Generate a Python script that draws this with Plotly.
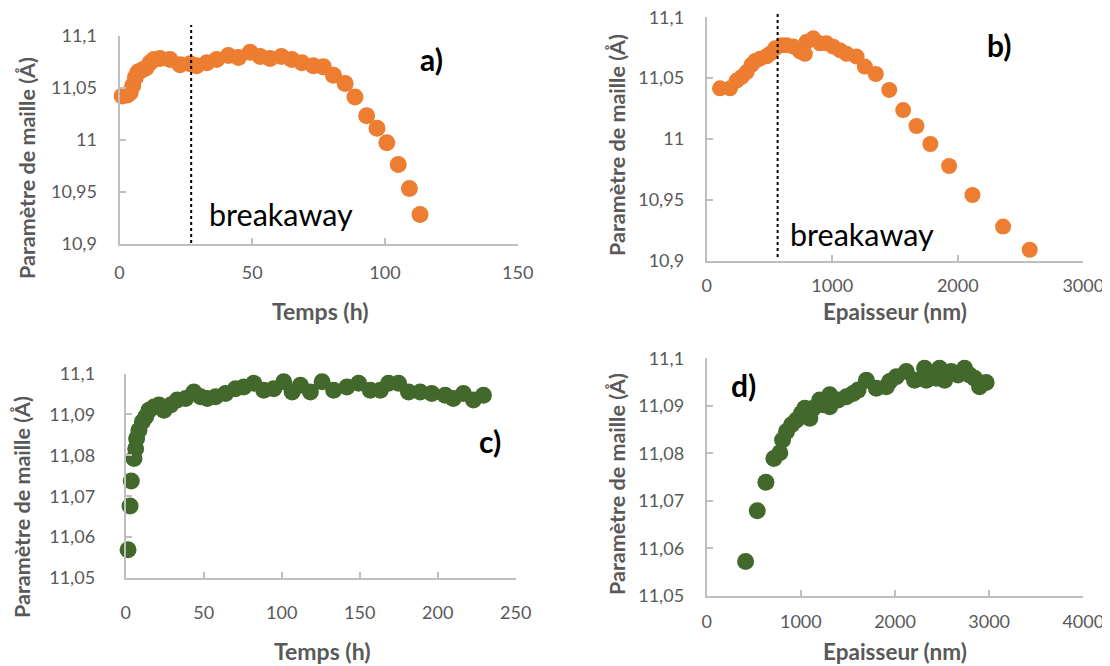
import plotly.graph_objects as go

# ---------------- data ----------------
a_time = [1.0, 2.0, 3.0, 4.0, 5.0, 6.0, 7.0, 8.5, 10.0, 11.5, 13.0, 15.3, 19.0, 22.8,
          26.6, 29.0, 32.9, 36.6, 41.0, 44.8, 49.2, 53.0, 56.7, 61.0, 64.9, 68.7,
          73.0, 76.8, 80.6, 85.0, 88.7, 93.1, 97.0, 100.7, 105.0, 109.2, 113.2]
a_param = [11.042, 11.043, 11.043, 11.045, 11.052, 11.060, 11.065, 11.067, 11.069,
           11.074, 11.077, 11.078, 11.077, 11.072, 11.073, 11.071, 11.074, 11.077,
           11.081, 11.079, 11.084, 11.080, 11.078, 11.080, 11.077, 11.074, 11.071,
           11.070, 11.062, 11.054, 11.041, 11.023, 11.011, 10.997, 10.976, 10.953,
           10.928]

b_thick = [106, 186, 239, 279, 318, 358, 385, 424, 477, 504, 544, 597, 637, 690, 743,
           782, 796, 849, 902, 955, 1008, 1061, 1114, 1194, 1260, 1347, 1454, 1565,
           1671, 1782, 1931, 2117, 2361, 2573]
b_param = [11.0416, 11.0416, 11.048, 11.051, 11.055, 11.061, 11.064, 11.066, 11.068,
           11.070, 11.0745, 11.077, 11.077, 11.076, 11.072, 11.070, 11.080, 11.0827,
           11.0786, 11.0786, 11.0759, 11.073, 11.070, 11.0677, 11.0595, 11.0534,
           11.0403, 11.0238, 11.0107, 10.9959, 10.9778, 10.954, 10.928, 10.909]

c_time = [1.5, 2.8, 3.6, 5.3, 6.4, 7.0, 8.5, 10.7, 12.8, 14.9, 18.1, 21.3, 24.5, 28.8,
          33.0, 38.4, 43.7, 48.0, 52.3, 57.6, 64.0, 70.4, 75.7, 82.1, 88.5, 94.9,
          101.3, 106.7, 112.0, 118.4, 125.9, 133.3, 141.8, 149.3, 156.8, 163.2,
          168.5, 174.9, 181.3, 188.8, 196.2, 204.8, 210.0, 216.5, 222.9, 229.3]
c_param = [11.0569, 11.0676, 11.0737, 11.0792, 11.0816, 11.0841, 11.0861, 11.0882,
           11.0894, 11.0910, 11.0918, 11.0923, 11.0910, 11.0923, 11.0935, 11.0939,
           11.0955, 11.0943, 11.0939, 11.0943, 11.0951, 11.0963, 11.0967, 11.0976,
           11.0959, 11.0963, 11.0980, 11.0955, 11.0971, 11.0955, 11.0980, 11.0959,
           11.0967, 11.0976, 11.0959, 11.0959, 11.0976, 11.0976, 11.0955, 11.0955,
           11.0951, 11.0947, 11.0939, 11.0951, 11.0935, 11.0947]

d_thick = [413, 537, 629, 714, 777, 806, 848, 901, 954, 1007, 1042, 1095, 1131, 1201,
           1237, 1307, 1307, 1396, 1484, 1555, 1608, 1696, 1802, 1908, 1943, 2014,
           2120, 2208, 2314, 2332, 2438, 2473, 2527, 2597, 2668, 2739, 2792, 2845,
           2898, 2968]
d_param = [11.0572, 11.0679, 11.0739, 11.0789, 11.0801, 11.0828, 11.0846, 11.0860,
           11.0870, 11.0884, 11.0895, 11.0874, 11.0895, 11.0912, 11.0902, 11.0923,
           11.0898, 11.0912, 11.0919, 11.0926, 11.0933, 11.0954, 11.0937, 11.0940,
           11.0951, 11.0961, 11.0972, 11.0954, 11.0979, 11.0954, 11.0958, 11.0979,
           11.0954, 11.0972, 11.0965, 11.0979, 11.0965, 11.0958, 11.0940, 11.0949]

breakaway_time = 27
breakaway_thick = 565

y_ticks_ab = [10.9, 10.95, 11.0, 11.05, 11.1]
y_text_ab = ["10,9", "10,95", "11", "11,05", "11,1"]
y_ticks_cd = [11.05, 11.06, 11.07, 11.08, 11.09, 11.1]
y_text_cd = ["11,05", "11,06", "11,07", "11,08", "11,09", "11,1"]

y_title = "Paramètre de maille (Å)"
x_title_time = "Temps (h)"
x_title_thick = "Epaisseur (nm)"

# ---------------- figure ----------------
OFF = 8                       # default page (body) margin of the html
W, H = 1110 - OFF, 666 - OFF  # figure size
ORANGE = "#ED7D31"
GREEN = "#43682B"
GRAY_TXT = "#595959"
AXIS_C = "#BFBFBF"
FONT = "Lato, 'Open Sans', sans-serif"
EPS = 1e-6


def px(x):
    return (x - OFF) / W


def py(y):
    return 1 - (y - OFF) / H


fig = go.Figure()
fig.add_trace(go.Scatter(x=a_time, y=a_param, mode="markers", xaxis="x", yaxis="y",
                         marker=dict(color=ORANGE, size=17), cliponaxis=False))
fig.add_trace(go.Scatter(x=b_thick, y=b_param, mode="markers", xaxis="x2", yaxis="y2",
                         marker=dict(color=ORANGE, size=16), cliponaxis=False))
fig.add_trace(go.Scatter(x=c_time, y=c_param, mode="markers", xaxis="x3", yaxis="y3",
                         marker=dict(color=GREEN, size=17), cliponaxis=False))
fig.add_trace(go.Scatter(x=d_thick, y=d_param, mode="markers", xaxis="x4", yaxis="y4",
                         marker=dict(color=GREEN, size=17), cliponaxis=False))


def xax(dom, rng, dt, standoff, anchor):
    return dict(domain=dom, range=rng, dtick=dt, tick0=0, anchor=anchor,
                automargin=False, ticklabeloverflow="allow",
                showline=True, linecolor=AXIS_C, linewidth=2,
                ticks="inside", ticklen=6, tickcolor=AXIS_C, tickwidth=2,
                showgrid=False, zeroline=False,
                tickfont=dict(family=FONT, size=18, color=GRAY_TXT),
                ticklabelstandoff=standoff)


def yax(dom, rng, tv, tt, standoff, anchor):
    return dict(domain=dom, range=[rng[0], rng[1] + EPS], tickvals=tv, ticktext=tt,
                anchor=anchor, automargin=False, ticklabeloverflow="allow",
                showline=True, linecolor=AXIS_C, linewidth=2,
                ticks="inside", ticklen=6, tickcolor=AXIS_C, tickwidth=2,
                showgrid=False, zeroline=False,
                tickfont=dict(family=FONT, size=18, color=GRAY_TXT),
                ticklabelstandoff=standoff)


# panel pixel boxes (page pixels): (left, right, top, bottom)
A = (119.5, 517.7, 35.7, 243.5)
B = (706.7, 1083.3, 17.3, 260.7)
C = (125.7, 515.7, 373.5, 578.0)
D = (706.7, 1083.3, 358.3, 595.7)


def xd(b):
    return [px(b[0]), px(b[1])]


def yd(b):
    return [py(b[3]), py(b[2])]


fig.update_layout(
    template="none",
    width=W, height=H, margin=dict(l=0, r=0, t=0, b=0, pad=0, autoexpand=False),
    paper_bgcolor="white", plot_bgcolor="white", showlegend=False,
    font=dict(family=FONT),
    xaxis=xax(xd(A), [0, 150], 50, 12, "y"),
    yaxis=yax(yd(A), [10.9, 11.1], y_ticks_ab, y_text_ab, 17, "x"),
    xaxis2=xax(xd(B), [0, 3000], 1000, 8, "y2"),
    yaxis2=yax(yd(B), [10.9, 11.1], y_ticks_ab, y_text_ab, 17, "x2"),
    xaxis3=xax(xd(C), [0, 250], 50, 17, "y3"),
    yaxis3=yax(yd(C), [11.05, 11.1], y_ticks_cd, y_text_cd, 25, "x3"),
    xaxis4=xax(xd(D), [0, 4000], 1000, 9, "y4"),
    yaxis4=yax(yd(D), [11.05, 11.1], y_ticks_cd, y_text_cd, 17, "x4"),
)

# breakaway dotted lines
fig.add_shape(type="line", xref="x", yref="paper", x0=breakaway_time, x1=breakaway_time,
              y0=py(243), y1=py(25), line=dict(color="black", width=2, dash="dot"))
fig.add_shape(type="line", xref="x2", yref="paper", x0=breakaway_thick, x1=breakaway_thick,
              y0=py(257), y1=py(14), line=dict(color="black", width=2, dash="dot"))

ann = []


def text(x, y, t, size, color="black", bold=False, angle=0):
    ann.append(dict(x=px(x), y=py(y), xref="paper", yref="paper", text=t,
                    showarrow=False, xanchor="center", yanchor="middle",
                    textangle=angle,
                    font=dict(family=FONT, size=size, color=color,
                              weight="bold" if bold else "normal")))


# breakaway labels
text(281, 214, "breakaway", 30.5)
text(862, 234, "breakaway", 30.5)
# panel letters
text(431, 59, "a)", 30, bold=True)
text(999, 45, "b)", 30, bold=True)
text(490, 441, "c)", 30, bold=True)
text(743, 385, "d)", 30, bold=True)
# axis titles
text(27, 168, y_title, 21.5, GRAY_TXT, True, -90)
text(617, 145, y_title, 21.5, GRAY_TXT, True, -90)
text(22, 507, y_title, 21.5, GRAY_TXT, True, -90)
text(617, 484, y_title, 21.5, GRAY_TXT, True, -90)
text(320, 311, x_title_time, 23, GRAY_TXT, True)
text(895, 311, x_title_thick, 22.5, GRAY_TXT, True)
text(322, 651, x_title_time, 23, GRAY_TXT, True)
text(895, 651, x_title_thick, 22.5, GRAY_TXT, True)

fig.update_layout(annotations=ann)
fig.write_html("out.html")
